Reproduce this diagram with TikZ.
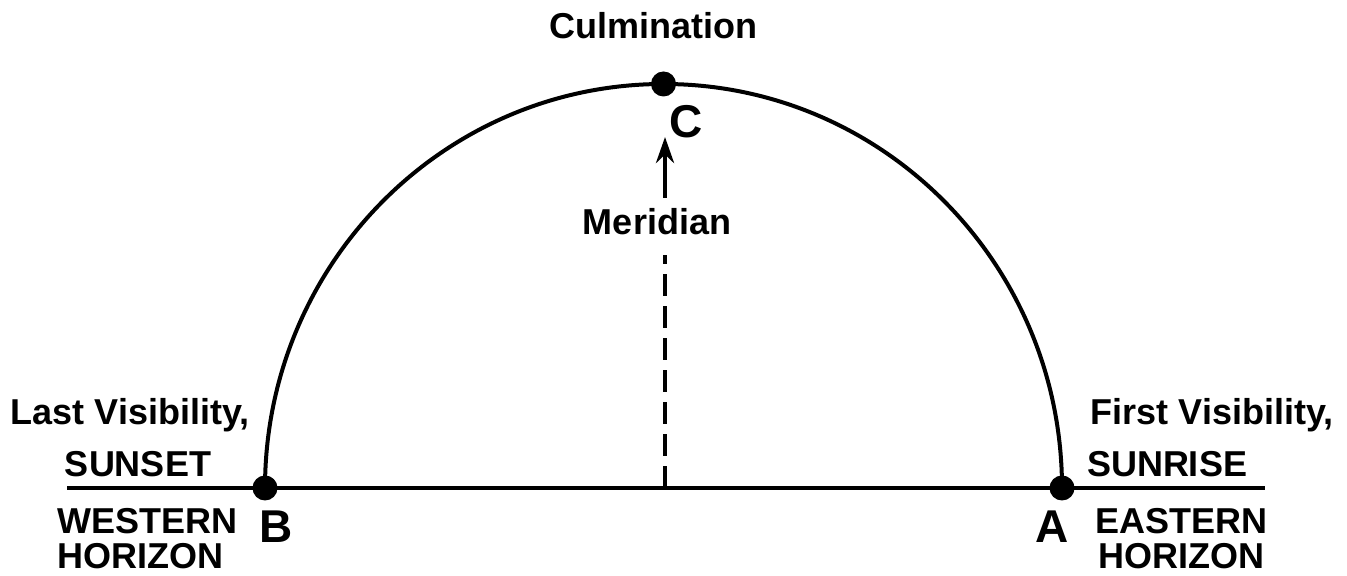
\documentclass[tikz,border=0pt]{standalone}
\usepackage{fontspec}
\setmainfont{Liberation Sans}
\usetikzlibrary{arrows.meta}
\tikzset{
  event/.style={circle, fill=black, inner sep=0pt, minimum size=12.5pt},
  caption/.style={font=\bfseries\fontsize{18}{17.5}\selectfont, inner sep=0pt, align=center},
  letter/.style={font=\bfseries\fontsize{23}{24}\selectfont, inner sep=0pt},
  horizon/.style={line width=2.2pt},
  orbit/.style={line width=2pt},
  meridian/.style={line width=2.2pt, dash pattern=on 11pt off 5pt},
  upward/.style={-{Stealth[length=13pt, width=9pt]}, line width=2.2pt},
}

\begin{document}
\begin{tikzpicture}[x=0.5pt, y=0.5pt]
  \useasboundingbox (0,0) rectangle (1347,576);
  % horizon and the visible path
  \coordinate (west) at (67,88);
  \coordinate (east) at (1265,88);
  \draw[horizon] (west) -- (east);
  \draw[orbit] (265,88) arc[start angle=180, end angle=0, x radius=398.5, y radius=404];
  \node[event] (B) at (265,88) {};
  \node[event] (A) at (1062,88) {};
  \node[event] (C) at (663.5,492) {};
  % meridian
  \coordinate (foot) at (665,88);
  \coordinate (top) at (665,321);
  \coordinate (tail) at (665,378);
  \coordinate (tip) at (665,439);
  \draw[meridian] (foot) -- (top);
  \draw[upward] (tail) -- (tip);
  % labels
  \node[caption] (culm) at (653,550) {Culmination};
  \node[letter] (labC) at (686,454) {C};
  \node[caption] (merid) at (657,354) {Meridian};
  \node[caption] (last) at (130,161) {Last Visibility,};
  \node[caption, anchor=base] (sunset) at (138,99) {SUNSET};
  \node[caption, align=left, anchor=north west] (western) at (57,68) {WESTERN\\HORIZON};
  \node[letter] (labB) at (276,49) {B};
  \node[caption] (first) at (1212,161) {First Visibility,};
  \node[caption, anchor=base] (sunrise) at (1167,99) {SUNRISE};
  \node[caption, anchor=north] (eastern) at (1181,68) {EASTERN\\HORIZON};
  \node[letter] (labA) at (1052,49) {A};
\end{tikzpicture}
\end{document}
